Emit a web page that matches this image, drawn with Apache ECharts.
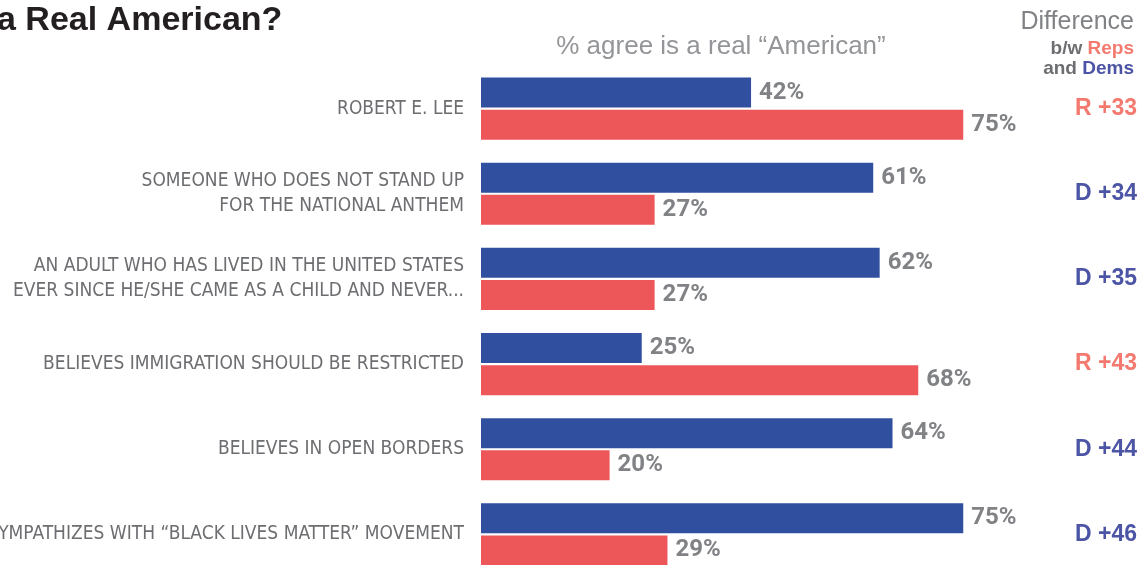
<!DOCTYPE html>
<html>
<head>
<meta charset="utf-8">
<script src="https://cdn.jsdelivr.net/npm/echarts@6/dist/echarts.min.js"></script>
<style>
html,body{margin:0;padding:0;background:#fff;}
#chart{width:1139px;height:565px;}
</style>
</head>
<body>
<div id="chart"></div>
<script>
const categories = [
  'ROBERT E. LEE',
  'SOMEONE WHO DOES NOT STAND UP\nFOR THE NATIONAL ANTHEM',
  'AN ADULT WHO HAS LIVED IN THE UNITED STATES\nEVER SINCE HE/SHE CAME AS A CHILD AND NEVER...',
  'BELIEVES IMMIGRATION SHOULD BE RESTRICTED',
  'BELIEVES IN OPEN BORDERS',
  'SYMPATHIZES WITH \u201CBLACK LIVES MATTER\u201D MOVEMENT'
];
const dems = [42, 61, 62, 25, 64, 75];
const reps = [75, 27, 27, 68, 20, 29];

const BLUE = '#304f9f';
const RED = '#ee575a';
const DIFF_R = '#f47a70';
const DIFF_D = '#4c55a5';
const GREY = '#808285';
const SANS = '"Liberation Sans", Arial, sans-serif';

const chart = echarts.init(document.getElementById('chart'), null, {renderer: 'canvas'});

const diffLabels = dems.map((d, i) => {
  const diff = d - reps[i];
  return diff >= 0 ? '{d|D +' + diff + '}' : '{r|R +' + (-diff) + '}';
});

const option = {
  animation: false,
  backgroundColor: '#fff',
  grid: {left: 481, width: 643, top: 66, height: 511, containLabel: false, outerBoundsMode: 'none'},
  xAxis: {
    type: 'value', min: 0, max: 100,
    show: false
  },
  yAxis: [{
    type: 'category',
    data: categories,
    inverse: true,
    axisLine: {show: false},
    axisTick: {show: false},
    splitLine: {show: false},
    axisLabel: {
      margin: 17,
      color: '#6d6e71',
      fontFamily: '"DejaVu Sans Condensed", sans-serif',
      fontSize: 19,
      lineHeight: 25,
      align: 'right'
    }
  }, {
    type: 'category',
    data: categories,
    inverse: true,
    position: 'right',
    axisLine: {show: false},
    axisTick: {show: false},
    splitLine: {show: false},
    axisLabel: {
      margin: 13,
      align: 'right',
      formatter: (v, i) => diffLabels[i],
      rich: {
        d: {color: DIFF_D, fontFamily: SANS, fontWeight: 'bold', fontSize: 23},
        r: {color: DIFF_R, fontFamily: SANS, fontWeight: 'bold', fontSize: 23}
      }
    }
  }],
  series: [{
    name: 'Dems', type: 'bar', data: dems, barWidth: 30, barGap: '7%',
    itemStyle: {color: BLUE},
    label: {
      show: true, position: 'right', distance: 8, formatter: '{c}%',
      color: GREY, fontFamily: 'Roboto, sans-serif', fontWeight: 'bold', fontSize: 24
    }
  }, {
    name: 'Reps', type: 'bar', data: reps, barWidth: 30, barGap: '7%',
    itemStyle: {color: RED},
    label: {
      show: true, position: 'right', distance: 8, formatter: '{c}%',
      color: GREY, fontFamily: 'Roboto, sans-serif', fontWeight: 'bold', fontSize: 24
    }
  }],
  graphic: [
    {
      type: 'text', x: -3, y: 21,
      style: {text: 'a Real American?', fill: '#231f20', fontFamily: SANS, fontWeight: 'bold', fontSize: 34, verticalAlign: 'middle'}
    },
    {
      type: 'text', x: 721, y: 47,
      style: {text: '% agree is a real \u201CAmerican\u201D', fill: '#939598', fontFamily: SANS, fontSize: 26, align: 'center', verticalAlign: 'middle'}
    },
    {
      type: 'text', x: 1134, y: 22,
      style: {text: 'Difference', fill: GREY, fontFamily: SANS, fontSize: 25, align: 'right', verticalAlign: 'middle'}
    },
    {
      type: 'text', x: 1134, y: 49,
      style: {
        text: '{g|b/w }{r|Reps}', align: 'right', verticalAlign: 'middle',
        rich: {
          g: {fill: '#6d6e71', fontFamily: SANS, fontWeight: 'bold', fontSize: 19},
          r: {fill: DIFF_R, fontFamily: SANS, fontWeight: 'bold', fontSize: 19}
        }
      }
    },
    {
      type: 'text', x: 1134, y: 69,
      style: {
        text: '{g|and }{d|Dems}', align: 'right', verticalAlign: 'middle',
        rich: {
          g: {fill: '#6d6e71', fontFamily: SANS, fontWeight: 'bold', fontSize: 19},
          d: {fill: DIFF_D, fontFamily: SANS, fontWeight: 'bold', fontSize: 19}
        }
      }
    }
  ]
};
chart.setOption(option);
</script>
</body>
</html>
